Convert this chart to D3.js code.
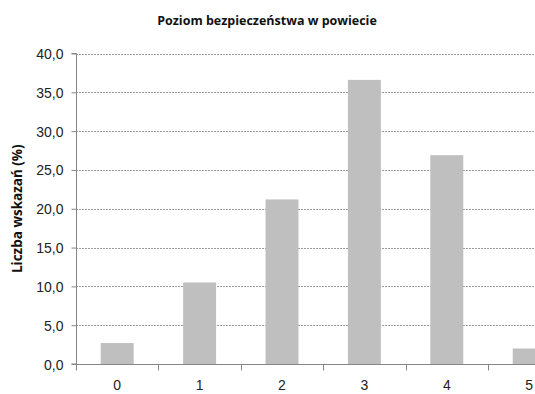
<!DOCTYPE html>
<html>
<head>
<meta charset="utf-8">
<script src="https://cdn.jsdelivr.net/npm/d3@7"></script>
<style>
  html, body { margin: 0; padding: 0; background: #fff; }
  svg { display: block; font-family: "Open Sans", "Liberation Sans", sans-serif; }
</style>
</head>
<body>
<svg id="chart" width="535" height="394"></svg>
<script>
// Survey: perceived safety level in the district (0–5) and share of answers (%)
const categories = ["0", "1", "2", "3", "4", "5"];
const shares = [2.7, 10.5, 21.2, 36.6, 26.9, 2.0];
const yTicks = [0, 5, 10, 15, 20, 25, 30, 35, 40];
const titleText = "Poziom bezpieczeństwa w powiecie";
const yLabelText = "Liczba wskazań (%)";

const svg = d3.select("#chart");
const W = 535, H = 394;

const plot = { left: 76, top: 53.5, bottom: 364, right: 570.4 };
const axisColor = "#868686";

const x = d3.scaleBand()
  .domain(categories)
  .range([plot.left, plot.right])
  .paddingInner(0.6)
  .paddingOuter(0.3);

const y = d3.scaleLinear()
  .domain([0, 40])
  .range([plot.bottom, plot.top]);

const fmt = v => d3.format(".1f")(v).replace(".", ",");

// dashed horizontal gridlines
svg.append("g")
  .selectAll("line")
  .data(yTicks.filter(t => t > 0))
  .join("line")
  .attr("x1", plot.left)
  .attr("x2", W)
  .attr("y1", d => Math.round(y(d)) + 0.5)
  .attr("y2", d => Math.round(y(d)) + 0.5)
  .attr("stroke", "#9a9a9a")
  .attr("stroke-width", 1)
  .attr("stroke-dasharray", "2,1");

// bars
svg.append("g")
  .selectAll("rect")
  .data(categories)
  .join("rect")
  .attr("x", d => x(d))
  .attr("width", x.bandwidth())
  .attr("y", (d, i) => y(shares[i]))
  .attr("height", (d, i) => y(0) - y(shares[i]))
  .attr("fill", "#bfbfbf");

// y axis
const yAxis = svg.append("g")
  .attr("transform", `translate(${plot.left + 0.5},0)`)
  .call(d3.axisLeft(y).tickValues(yTicks).tickFormat(fmt).tickSize(5).tickPadding(8));
yAxis.select(".domain").attr("stroke", axisColor).attr("d", `M-5,${y(40)}H0V${y(0)}H-5`);
yAxis.selectAll(".tick line").attr("stroke", axisColor);
yAxis.selectAll(".tick text")
  .attr("fill", "#222")
  .style("font-size", "14px")
  .attr("dy", "0.36em");

// x axis: labels centred under bars, tick marks between categories
const xAxis = svg.append("g")
  .attr("transform", `translate(0,${Math.round(y(0)) + 0.5})`)
  .call(d3.axisBottom(x).tickSize(0).tickPadding(16));
xAxis.select(".domain").attr("stroke", axisColor).attr("d", `M${plot.left},0H${plot.right}`);
xAxis.selectAll(".tick text")
  .attr("fill", "#222")
  .style("font-size", "14px");

xAxis.append("g")
  .selectAll("line")
  .data(d3.range(categories.length + 1))
  .join("line")
  .attr("x1", i => Math.round(plot.left + i * x.step()) + 0.5)
  .attr("x2", i => Math.round(plot.left + i * x.step()) + 0.5)
  .attr("y1", 0)
  .attr("y2", 6)
  .attr("stroke", axisColor);

// title
svg.append("text")
  .attr("x", 267)
  .attr("y", 25)
  .attr("text-anchor", "middle")
  .attr("font-weight", "bold")
  .style("font-size", "12.5px")
  .attr("fill", "#111")
  .text(titleText);

// y axis title
svg.append("text")
  .attr("transform", `translate(22,${(plot.top + plot.bottom) / 2}) rotate(-90)`)
  .attr("text-anchor", "middle")
  .attr("font-weight", "bold")
  .style("font-size", "13.5px")
  .attr("fill", "#111")
  .text(yLabelText);
</script>
</body>
</html>
